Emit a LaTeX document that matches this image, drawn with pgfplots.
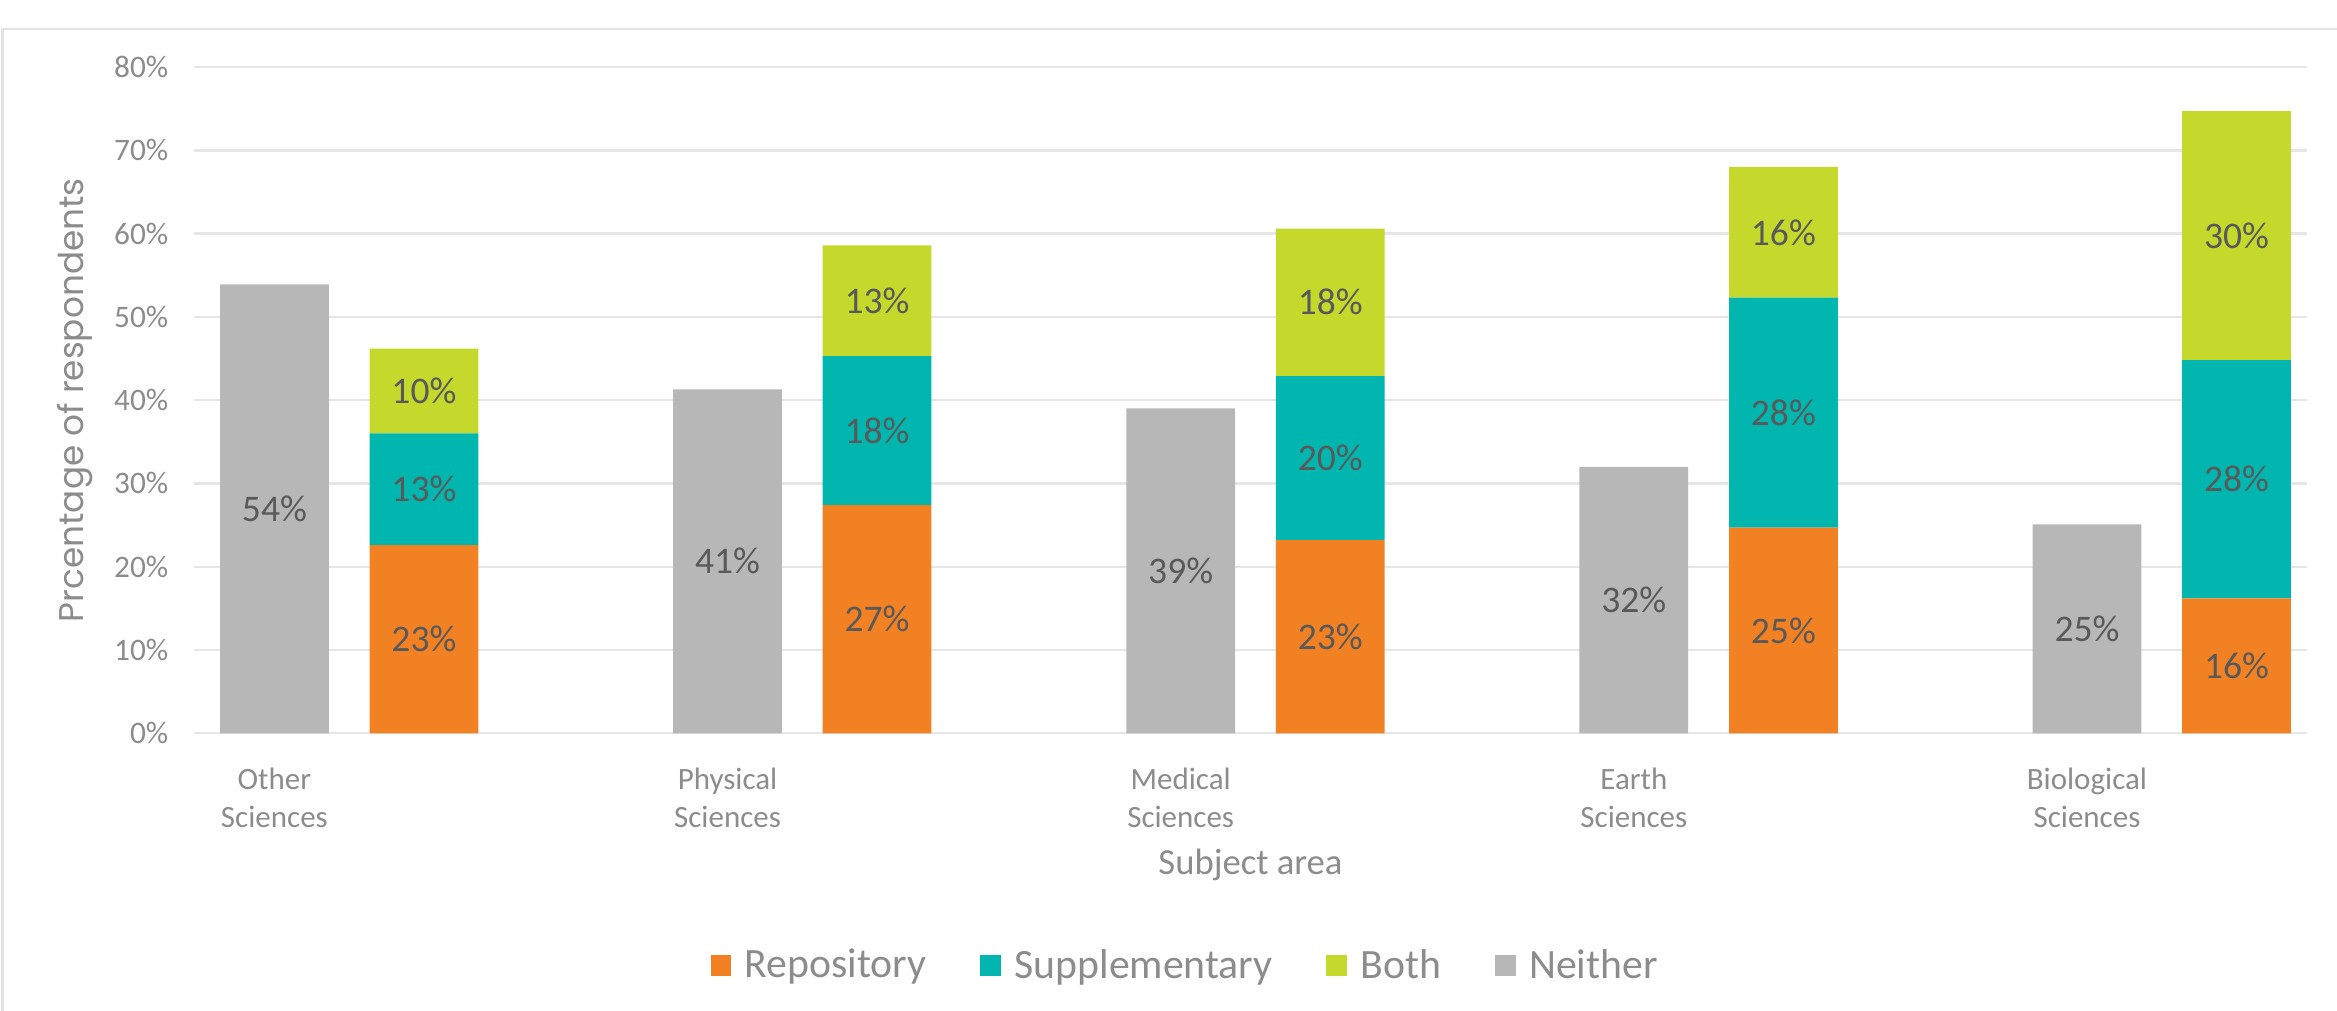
\documentclass[border=0pt]{standalone}
\usepackage{pgfplots}
\pgfplotsset{compat=1.18}
\usepackage{pgfplotstable}
\usepackage{fontspec}
\setmainfont{Carlito}
\newfontfamily\titlefont{Poppins}
\definecolor{cRep}{HTML}{F28124}
\definecolor{cSup}{HTML}{00B6AE}
\definecolor{cBoth}{HTML}{C5D92D}
\definecolor{cNei}{HTML}{B7B7B7}
\definecolor{cGrid}{HTML}{E6E6E6}
\definecolor{cTick}{HTML}{8C8C8C}
\definecolor{cLab}{HTML}{595959}
\definecolor{cFrame}{HTML}{E3E3E3}

\pgfplotstableread{
x N R S B Nl Rl Sl Bl
0 53.9 22.6 13.4 10.2 54 23 13 10
1 41.3 27.4 17.9 13.3 41 27 18 13
2 39.0 23.2 19.7 17.7 39 23 20 18
3 32.0 24.7 27.6 15.7 32 25 28 16
4 25.1 16.2 28.6 29.9 25 16 28 30
}\datatable

\pgfplotsset{
  common/.style={
    at={(65pt,93pt)}, anchor=south west,
    scale only axis, width=709pt, height=223.5pt,
    xmin=-0.343, xmax=4.321, ymin=0, ymax=80,
    bar width=0.24,
    nodes near coords={\pgfplotspointmeta\%},
    point meta=explicit symbolic,
    visualization depends on={rawy \as \rawy},
    every node near coord/.append style={anchor=center,
      font=\fontsize{12.6}{14}\selectfont, text=cLab,
      shift={(axis direction cs:0,-\rawy/2)}},
  },
}

\begin{document}
\begin{tikzpicture}
\path[use as bounding box] (0,0) rectangle (784pt,339pt);
\draw[cFrame, line width=0.9pt] (0.75pt,0) -- (0.75pt,329.25pt) -- (784pt,329.25pt);

\begin{axis}[common,
  /pgf/number format/assume math mode=true,
  axis line style={draw=none},
  tick style={draw=none},
  ymajorgrids, major grid style={cGrid, line width=0.8pt},
  ytick={0,10,...,80},
  yticklabel={\pgfmathprintnumber{\tick}\%},
  yticklabel style={text=cTick, font=\fontsize{10.5}{12}\selectfont, xshift=-5pt},
  xtick={-0.165,0.835,1.835,2.835,3.835},
  xticklabels={Other\\Sciences, Physical\\Sciences, Medical\\Sciences, Earth\\Sciences, Biological\\Sciences},
  xticklabel style={align=center, text=cTick, font=\fontsize{10.4}{12.6}\selectfont, yshift=-4pt},
  xlabel={Subject area},
  xlabel style={at={(axis description cs:0.5,0)}, anchor=center, yshift=-44pt, text=cTick, font=\fontsize{12.3}{14}\selectfont},
  ylabel={Prcentage of respondents},
  ylabel style={at={(axis description cs:-0.0564,0.5)}, anchor=center, text=cTick, font=\titlefont\fontsize{11.5}{13}\selectfont},
  ybar, bar shift=0pt,
]
\addplot[fill=cNei, draw=none] table[x expr=\thisrow{x}-0.165, y=N, meta=Nl]{\datatable};
\end{axis}

\begin{axis}[common,
  hide axis,
  ybar stacked,
  legend style={at={(0.470,-0.349)}, anchor=center, draw=none, fill=none,
    legend columns=4, font=\fontsize{14}{16}\selectfont, text=cTick,
    /tikz/every odd column/.append style={column sep=2.5pt},
    /tikz/every even column/.append style={column sep=16pt}},
  legend image code/.code={\fill[#1] (0pt,-3.5pt) rectangle (7pt,3.5pt);},
]
\addplot[fill=cRep, draw=none] table[x expr=\thisrow{x}+0.165, y=R, meta=Rl]{\datatable};
\addlegendentry{Repository}
\addplot[fill=cSup, draw=none] table[x expr=\thisrow{x}+0.165, y=S, meta=Sl]{\datatable};
\addlegendentry{Supplementary}
\addplot[fill=cBoth, draw=none] table[x expr=\thisrow{x}+0.165, y=B, meta=Bl]{\datatable};
\addlegendentry{Both}
\addlegendimage{fill=cNei, draw=none}
\addlegendentry{Neither}
\end{axis}
\end{tikzpicture}
\end{document}
